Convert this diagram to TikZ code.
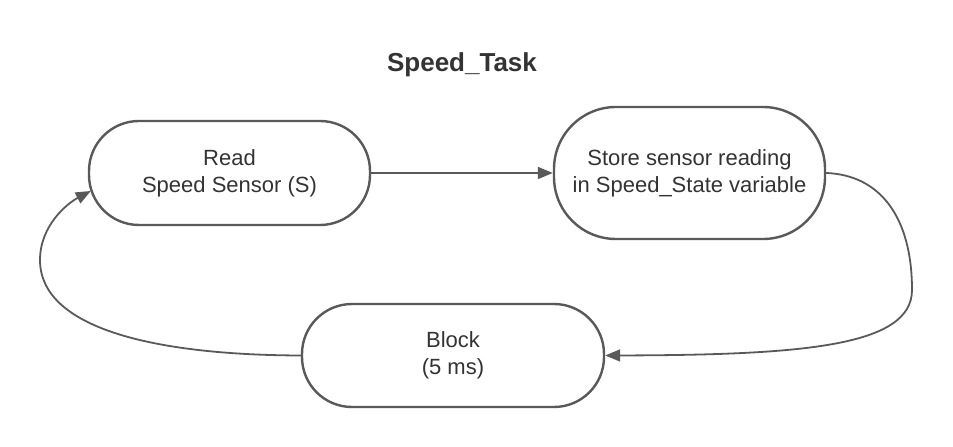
\documentclass[tikz,border=0pt]{standalone}
\usepackage{fontspec}
\setmainfont{Liberation Sans}
\usetikzlibrary{arrows.meta,calc}
\definecolor{linec}{HTML}{595959}
\definecolor{textc}{HTML}{333333}
\tikzset{
  pill/.style={draw=linec, line width=2.4pt, fill=white, text=textc, align=center,
    font=\fontsize{22}{27}\selectfont, inner sep=0pt},
  conn/.style={draw=linec, line width=1.8pt, -{Triangle[length=15pt,width=12pt]}},
}
\begin{document}
\begin{tikzpicture}[x=1pt,y=1pt]
\useasboundingbox (0,0) rectangle (953,447);
\node[text=textc, font=\bfseries\fontsize{26}{30}\selectfont] (title) at (462,382) {Speed\_Task};
\node[pill, minimum width=281pt, minimum height=104pt, rounded corners=50pt] (A) at (229.5,274) {Read\\Speed Sensor (S)};
\node[pill, minimum width=271pt, minimum height=132pt, rounded corners=62pt] (B) at (689.5,274) {Store sensor reading\\in Speed\_State variable};
\node[pill, minimum width=302pt, minimum height=103pt, rounded corners=50pt] (C) at (453,91.5) {Block\\(5 ms)};
\coordinate (Ain) at ($(A.west)+(3,-18)$);
\coordinate (Rmid) at (912,157);
\coordinate (Lmid) at (40,187);
\draw[conn] (A.east) -- (B.west);
\draw[conn] (B.east) .. controls (880,272) and (912,230) .. (Rmid) .. controls (912,100) and (800,92) .. (C.east);
\draw[conn] (C.west) .. controls (150,92) and (40,120) .. (Lmid) .. controls (40,222) and (68,244) .. (Ain);
\end{tikzpicture}
\end{document}
